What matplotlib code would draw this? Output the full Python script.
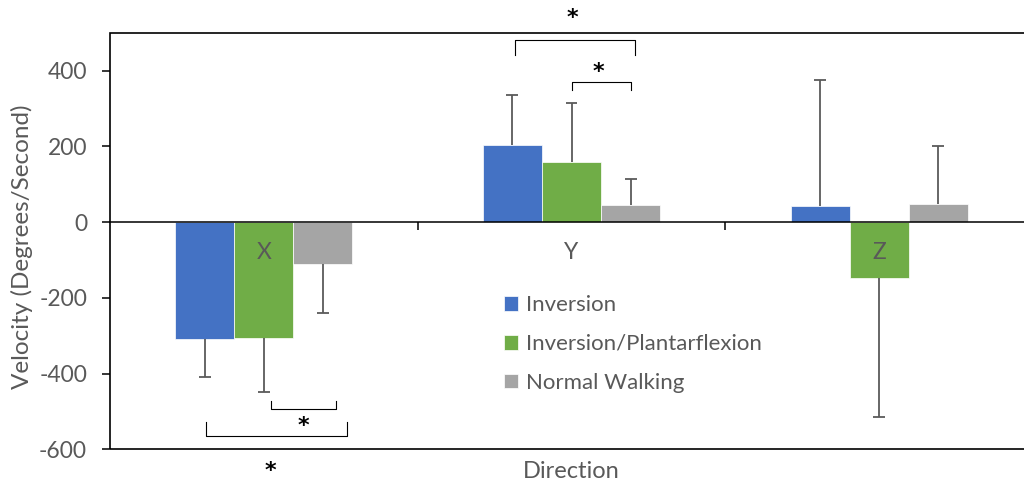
import numpy as np
import matplotlib

matplotlib.use("Agg")
import matplotlib.pyplot as plt
from matplotlib.patches import Rectangle

plt.rcParams["font.family"] = ["Lato", "DejaVu Sans"]
plt.rcParams["axes.unicode_minus"] = False

directions = ["X", "Y", "Z"]
series = ["Inversion", "Inversion/Plantarflexion", "Normal Walking"]
colors = ["#4472C4", "#70AD47", "#A5A5A5"]

# mean angular velocity and SD per direction (deg/s)
inversion_mean = [-308, 204, 42]
inversion_sd = [102, 131, 332]
plantar_mean = [-307, 158, -148]
plantar_sd = [143, 156, 366]
walking_mean = [-112, 46, 48]
walking_sd = [128, 67, 153]

means = [inversion_mean, plantar_mean, walking_mean]
sds = [inversion_sd, plantar_sd, walking_sd]

# significance brackets: x0, x1, bar level, leg end, star x, star y
brackets = [
    (0.817, 1.205, 482, 442, 1.004, 538),
    (1.002, 1.194, 370, 348, 1.089, 395),
    (0.022, 0.233, -493, -472, 0.128, -538),
    (-0.187, 0.270, -566, -529, 0.021, -656),
]

text_grey = "#595959"
W, H = 1024, 482

fig = plt.figure(figsize=(W / 100, H / 100), dpi=100)
ax = fig.add_axes([110 / W, 32.7 / H, 923 / W, 416.6 / H])

x = np.arange(len(directions))
width = 0.192
cap = 0.0195
for i, (m, s) in enumerate(zip(means, sds)):
    pos = x + (i - 1) * width
    ax.bar(pos, m, width, color=colors[i], edgecolor="white", linewidth=0.5,
           label=series[i], zorder=1)
    m = np.array(m, dtype=float)
    s = np.array(s, dtype=float)
    ends = m + np.sign(m) * s
    ax.vlines(pos, m, ends, color="#5a5a5a", linewidth=1.3, zorder=2)
    ax.hlines(ends, pos - cap, pos + cap, color="#5a5a5a", linewidth=1.3, zorder=2)

for x0, x1, yb, yl, sx, sy in brackets:
    ax.plot([x0, x0, x1, x1], [yl, yb, yb, yl], color="black", linewidth=0.8,
            clip_on=False, zorder=3)
    ax.text(sx, sy, "*", ha="center", va="center", fontsize=16, fontweight="bold",
            family="DejaVu Sans", color="black", clip_on=False)

ax.set_xlim(-0.5, 2.5)
ax.set_ylim(-600, 500)

for side in ["top", "right", "left"]:
    ax.spines[side].set_visible(False)
ax.spines["bottom"].set_position(("data", 0))
ax.spines["bottom"].set_linewidth(1.1)
ax.add_patch(Rectangle((0, 0), 1, 1, transform=ax.transAxes, fill=False,
                       edgecolor="black", linewidth=1.2, clip_on=False, zorder=3))

ax.set_yticks(np.arange(-600, 401, 200))
ax.tick_params(axis="y", direction="out", length=5.5, width=1.1, pad=11,
               labelsize=16.5, labelcolor=text_grey)

ax.set_xticks([0.5, 1.5])
ax.set_xticklabels([])
ax.set_xticks(x, minor=True)
ax.set_xticklabels(directions, minor=True)
ax.tick_params(axis="x", which="major", direction="out", length=5.5, width=1.1)
ax.tick_params(axis="x", which="minor", length=0, pad=14, labelsize=16.5,
               labelcolor=text_grey)

fig.text(571 / W, 1 - 478 / H, "Direction", ha="center", va="baseline",
         fontsize=17, color=text_grey)
fig.text(22 / W, 1 - 246.5 / H, "Velocity (Degrees/Second)", ha="center",
         va="center", rotation=90, fontsize=17.5, color=text_grey)

ax.legend(frameon=False, loc="upper left", bbox_to_anchor=(504 / W, 1 - 295 / H),
          bbox_transform=fig.transFigure, borderpad=0, borderaxespad=0,
          handlelength=0.65, handleheight=0.65, handletextpad=0.33,
          labelspacing=0.85, fontsize=16, labelcolor=text_grey)

fig.savefig("out.png", dpi=100)
